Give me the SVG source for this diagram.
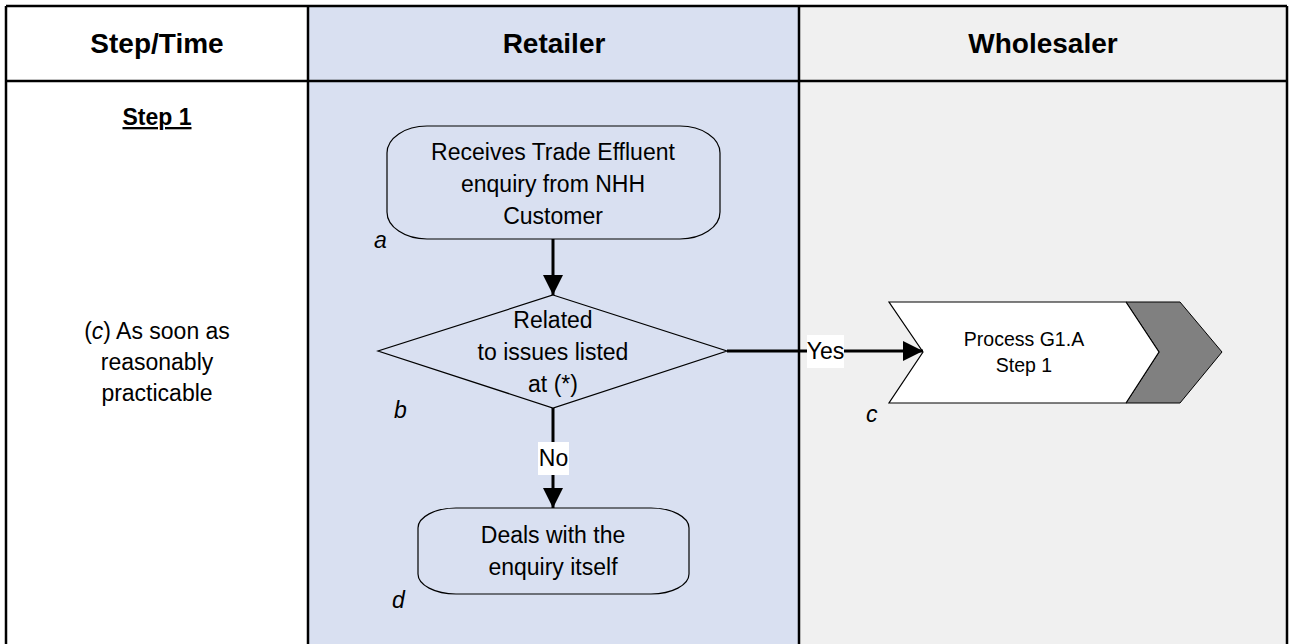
<svg xmlns="http://www.w3.org/2000/svg" width="1290" height="644" viewBox="0 0 1290 644">
<defs>
<style>
.t{font-family:"Liberation Sans",Arial,sans-serif;font-size:23px;fill:#000;text-anchor:middle}
.h{font-family:"Liberation Sans",Arial,sans-serif;font-size:28px;font-weight:bold;fill:#000;text-anchor:middle}
.s{font-family:"Liberation Sans",Arial,sans-serif;font-size:19.5px;fill:#000;text-anchor:middle}
.lab{font-family:"Liberation Sans",Arial,sans-serif;font-size:23px;font-style:italic;fill:#000}
.shape{fill:none;stroke:#000;stroke-width:1.2}
.conn{stroke:#000;stroke-width:3;fill:none}
.grid{stroke:#000;stroke-width:2.5;fill:none}
</style>
<marker id="arr" markerUnits="userSpaceOnUse" markerWidth="20" markerHeight="20" refX="20" refY="10" orient="auto">
<path d="M0,0 L20,10 L0,20 z" fill="#000"/>
</marker>
</defs>
<rect width="1290" height="644" fill="#fff"/>
<g id="lanes">
<rect x="6" y="6" width="302" height="650" fill="#ffffff"/>
<rect x="308" y="6" width="491" height="650" fill="#d9e0f1"/>
<rect x="799" y="6" width="488" height="650" fill="#f0f0f0"/>
<path class="grid" d="M6,6 H1287 M6,81 H1287 M6,6 V650 M308,6 V650 M799,6 V650 M1287,6 V650"/>
<text class="h" x="157" y="53">Step/Time</text>
<text class="h" x="554" y="53">Retailer</text>
<text class="h" x="1043" y="53">Wholesaler</text>
</g>
<g id="step-col">
<text class="t" x="157" y="125" font-weight="bold" text-decoration="underline">Step 1</text>
<text class="t" x="157" y="339">(<tspan font-style="italic">c</tspan>) As soon as</text>
<text class="t" x="157" y="370">reasonably</text>
<text class="t" x="157" y="401">practicable</text>
</g>
<g id="node-a">
<rect class="shape" x="387" y="126" width="333" height="113" rx="40" ry="27"/>
<text class="t" x="553" y="160">Receives Trade Effluent</text>
<text class="t" x="553" y="192">enquiry from NHH</text>
<text class="t" x="553" y="224">Customer</text>
<text class="lab" x="374" y="248">a</text>
</g>
<g id="node-b">
<polygon class="shape" points="553,295 727,351 553,408 378,351"/>
<text class="t" x="553" y="328">Related</text>
<text class="t" x="553" y="360">to issues listed</text>
<text class="t" x="553" y="392">at (*)</text>
<text class="lab" x="394" y="418">b</text>
</g>
<g id="node-c">
<polygon points="1126,302 1180,302 1222,352 1180,403 1126,403 1159,352" fill="#808080" stroke="#000" stroke-width="1"/>
<polygon points="889,302 1126,302 1159,352 1126,403 889,403 923,352" fill="#fff" stroke="#000" stroke-width="1.2"/>
<text class="s" x="1024" y="346">Process G1.A</text>
<text class="s" x="1024" y="372">Step 1</text>
<text class="lab" x="866" y="422">c</text>
</g>
<g id="node-d">
<rect class="shape" x="418" y="508" width="271" height="86" rx="38" ry="20"/>
<text class="t" x="553" y="543">Deals with the</text>
<text class="t" x="553" y="575">enquiry itself</text>
<text class="lab" x="392" y="608">d</text>
</g>
<g id="connectors">
<line class="conn" x1="553" y1="239" x2="553" y2="295" marker-end="url(#arr)"/>
<line class="conn" x1="727" y1="351" x2="923" y2="351" marker-end="url(#arr)"/>
<line class="conn" x1="553" y1="408" x2="553" y2="508" marker-end="url(#arr)"/>
<rect x="807" y="335" width="37" height="33" fill="#fff"/>
<text class="t" x="825.5" y="359">Yes</text>
<rect x="538" y="442" width="31" height="33" fill="#fff"/>
<text class="t" x="553.5" y="466">No</text>
</g>
</svg>
